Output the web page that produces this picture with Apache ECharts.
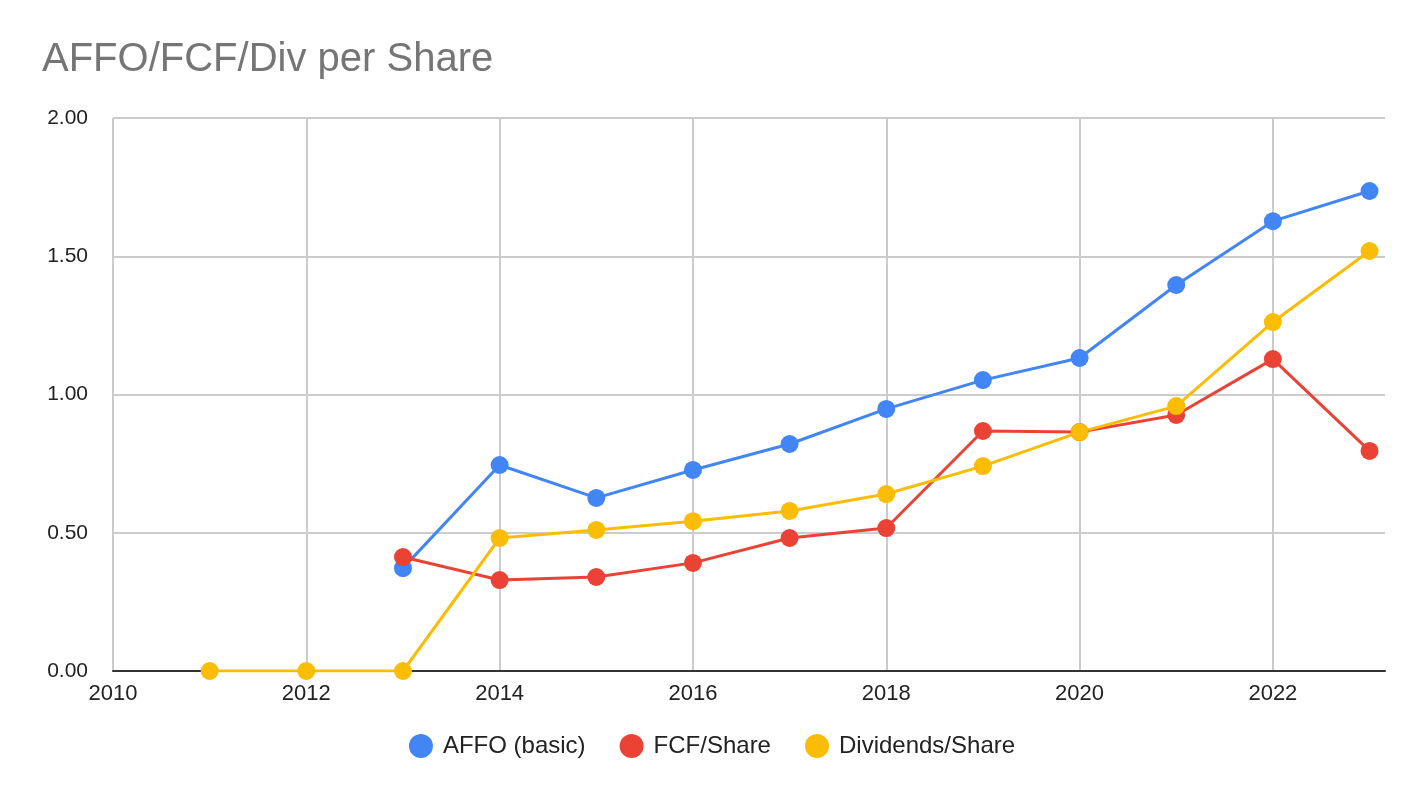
<!DOCTYPE html>
<html>
<head>
<meta charset="utf-8">
<script src="https://cdn.jsdelivr.net/npm/echarts@6/dist/echarts.min.js"></script>
<style>
  html, body { margin: 0; padding: 0; background: #fff; }
  #main { width: 1424px; height: 798px; }
</style>
</head>
<body>
<div id="main"></div>
<script>
// data
let years = [2011, 2012, 2013, 2014, 2015, 2016, 2017, 2018, 2019, 2020, 2021, 2022, 2023];
let affo = [null, null, 0.372, 0.745, 0.626, 0.727, 0.821, 0.948, 1.052, 1.132, 1.396, 1.627, 1.736];
let fcf = [null, null, 0.412, 0.329, 0.340, 0.391, 0.481, 0.517, 0.868, 0.864, 0.926, 1.128, 0.796];
let divs = [0, 0, 0, 0.481, 0.510, 0.542, 0.579, 0.640, 0.741, 0.864, 0.958, 1.262, 1.519];
let seriesNames = ["AFFO (basic)", "FCF/Share", "Dividends/Share"];
let colors = ["#4285F4", "#EA4335", "#FBBC04"];

function pairs(vals) {
    let out = [];
    for (let i = 0; i < years.length; i++) {
        if (vals[i] !== null) out.push([years[i], vals[i]]);
    }
    return out;
}

let dom = document.getElementById("main");
let myChart = echarts.init(dom, null, { renderer: "canvas" });

let font = "Arial, 'Liberation Sans', sans-serif";

let option = {
    animation: false,
    color: colors,
    title: {
        text: "AFFO/FCF/Div per Share",
        left: 37,
        top: 35,
        textStyle: { fontFamily: font, fontSize: 40, fontWeight: "normal", color: "#757575" },
    },
    legend: {
        bottom: 35,
        left: "center",
        icon: "circle",
        itemWidth: 24,
        itemHeight: 24,
        itemGap: 34,
        textStyle: { fontFamily: font, fontSize: 24, color: "#222", padding: [0, 0, 0, 5] },
        data: seriesNames,
    },
    grid: { left: 113, right: 39, top: 118, bottom: 127 },
    xAxis: {
        type: "value",
        min: 2010,
        max: 2023.16,
        interval: 2,
        axisLine: { show: true, onZero: false, lineStyle: { color: "#333", width: 2 } },
        axisTick: { show: false },
        axisLabel: {
            fontFamily: font, fontSize: 22, color: "#222", margin: 12,
            showMaxLabel: false,
            formatter: function (v) { return v % 2 === 0 ? String(v) : ""; },
        },
        splitLine: { show: true, showMaxLine: false, lineStyle: { color: "#ccc", width: 2 } },
    },
    yAxis: {
        type: "value",
        min: 0,
        max: 2,
        interval: 0.5,
        axisLine: { show: false },
        axisTick: { show: false },
        axisLabel: {
            fontFamily: font, fontSize: 21, color: "#222", margin: 25,
            formatter: function (v) { return v.toFixed(2); },
        },
        splitLine: { show: true, lineStyle: { color: "#ccc", width: 2 } },
    },
    series: [
        { name: seriesNames[0], type: "line", data: pairs(affo) },
        { name: seriesNames[1], type: "line", data: pairs(fcf) },
        { name: seriesNames[2], type: "line", data: pairs(divs) },
    ].map(function (s, i) {
        s.symbol = "circle";
        s.symbolSize = 18;
        s.lineStyle = { width: 3, color: colors[i] };
        s.itemStyle = { color: colors[i] };
        return s;
    }),
};

myChart.setOption(option);
window.addEventListener("resize", myChart.resize);
</script>
</body>
</html>
